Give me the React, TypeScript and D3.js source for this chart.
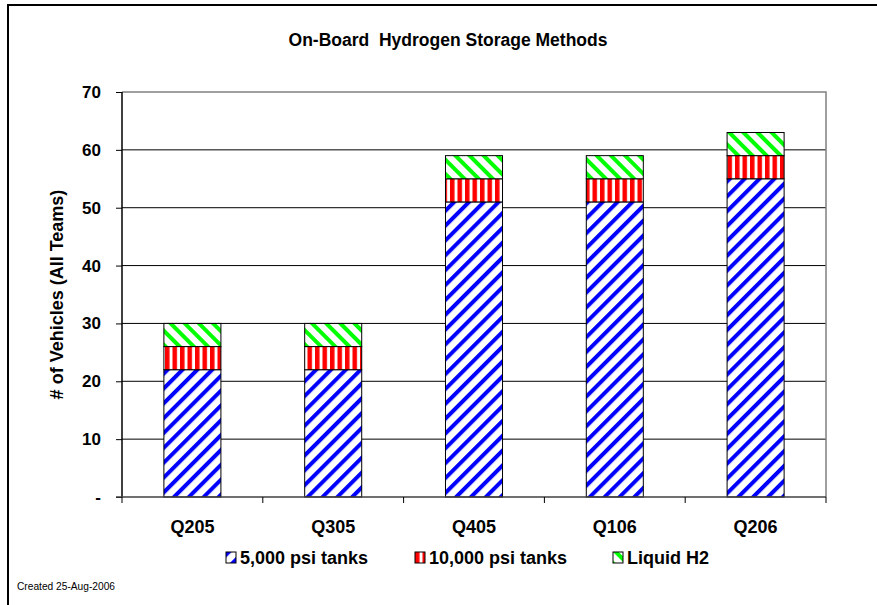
import React, { useRef, useEffect } from "react";
import * as d3 from "d3";

const quarters = ["Q205", "Q305", "Q405", "Q106", "Q206"];
const psi5000 = [22, 22, 51, 51, 55];
const psi10000 = [4, 4, 4, 4, 4];
const liquidH2 = [4, 4, 4, 4, 4];
const seriesNames = ["5,000 psi tanks", "10,000 psi tanks", "Liquid H2"];
const yTicks = [0, 10, 20, 30, 40, 50, 60, 70];

const App = () => {
    const chart = useRef<SVGSVGElement>(null);

    useEffect(() => {
        const width = 877;
        const height = 605;
        const margin = { top: 92, right: 51, bottom: 108, left: 122 };
        const font = "Arial, 'Liberation Sans', sans-serif";

        const svg = d3.select(chart.current);
        svg.selectAll("*").remove();
        svg.attr("width", width).attr("height", height);

        // hatch patterns
        const defs = svg.append("defs");
        const hatch = (id: string, color: string, angle: number, period: number, stroke: number) => {
            const p = defs.append("pattern")
                .attr("id", id)
                .attr("patternUnits", "userSpaceOnUse")
                .attr("width", period)
                .attr("height", period)
                .attr("patternTransform", `rotate(${angle})`);
            p.append("rect").attr("width", period).attr("height", period).attr("fill", "#fff");
            p.append("rect").attr("x", 0).attr("width", stroke).attr("height", period).attr("fill", color);
        };
        hatch("hBlue", "#0000ff", 45, 10.5, 4);
        hatch("hRed", "#ff0000", 0, 7.5, 4.5);
        hatch("hGreen", "#00ff00", -45, 10, 4);
        const fills = ["url(#hBlue)", "url(#hRed)", "url(#hGreen)"];

        // outer frame
        svg.append("rect")
            .attr("x", 8).attr("y", 5)
            .attr("width", width).attr("height", height)
            .attr("fill", "none").attr("stroke", "#000").attr("stroke-width", 2);

        const x = d3.scaleBand()
            .domain(quarters)
            .range([margin.left, width - margin.right]);
        const y = d3.scaleLinear()
            .domain([0, 70])
            .range([height - margin.bottom, margin.top]);

        // gridlines
        svg.append("g")
            .selectAll("line")
            .data(yTicks.filter(d => d > 0 && d < 70))
            .join("line")
            .attr("x1", margin.left).attr("x2", width - margin.right)
            .attr("y1", d => y(d)).attr("y2", d => y(d))
            .attr("stroke", "#000").attr("stroke-width", 1);

        // plot border (top + right)
        svg.append("path")
            .attr("d", `M${margin.left},${y(70)}H${width - margin.right}V${y(0)}`)
            .attr("fill", "none").attr("stroke", "#808080").attr("stroke-width", 1.5);

        // stacked bars
        const rows = quarters.map((q, i) => ({ q, a: psi5000[i], b: psi10000[i], c: liquidH2[i] }));
        const stack = d3.stack<any>().keys(["a", "b", "c"])(rows);
        const bw = x.bandwidth() * 0.405;
        stack.forEach((layer, li) => {
            svg.append("g")
                .selectAll("rect")
                .data(layer)
                .join("rect")
                .attr("x", d => x(d.data.q)! + (x.bandwidth() - bw) / 2)
                .attr("y", d => y(d[1]))
                .attr("width", bw)
                .attr("height", d => y(d[0]) - y(d[1]))
                .attr("fill", fills[li])
                .attr("stroke", "#000")
                .attr("stroke-width", 1);
        });

        // y axis
        const yAxis = svg.append("g")
            .attr("transform", `translate(${margin.left},0)`)
            .call(d3.axisLeft(y).tickValues(yTicks).tickSize(6).tickPadding(15)
                .tickFormat(d => (+d === 0 ? "-" : String(d))));
        yAxis.select(".domain").attr("stroke", "#000").attr("stroke-width", 1.5).attr("d", `M0,${y(70)}V${y(0)}`);
        yAxis.selectAll(".tick line").attr("stroke", "#000");
        yAxis.selectAll("text")
            .attr("font-family", font).attr("font-weight", "bold").attr("font-size", 17).attr("fill", "#000");

        // x axis
        const xAxis = svg.append("g")
            .attr("transform", `translate(0,${y(0)})`)
            .call(d3.axisBottom(x).tickSize(0).tickPadding(23));
        xAxis.select(".domain").attr("stroke", "#404040").attr("stroke-width", 1.5)
            .attr("d", `M${margin.left - 6},0H${width - margin.right}`);
        xAxis.selectAll("text")
            .attr("font-family", font).attr("font-weight", "bold").attr("font-size", 18).attr("fill", "#000");
        svg.append("g")
            .selectAll("line")
            .data(quarters.map(q => x(q)!).concat([width - margin.right]))
            .join("line")
            .attr("x1", d => d).attr("x2", d => d)
            .attr("y1", y(0)).attr("y2", y(0) + 6)
            .attr("stroke", "#000");

        // title
        svg.append("text")
            .attr("x", 448).attr("y", 46)
            .attr("text-anchor", "middle")
            .attr("font-family", font).attr("font-weight", "bold").attr("font-size", 17.5)
            .style("white-space", "pre")
            .text("On-Board  Hydrogen Storage Methods");

        // y axis title
        svg.append("text")
            .attr("transform", `translate(63,${(y(0) + y(70)) / 2}) rotate(-90)`)
            .attr("text-anchor", "middle")
            .attr("font-family", font).attr("font-weight", "bold").attr("font-size", 18)
            .text("# of Vehicles (All Teams)");

        // legend
        const legendX = [226, 415, 613];
        const legend = svg.append("g")
            .selectAll("g")
            .data(seriesNames)
            .join("g")
            .attr("transform", (d, i) => `translate(${legendX[i]},552)`);
        legend.append("rect")
            .attr("width", 10).attr("height", 11)
            .attr("fill", (d, i) => fills[i])
            .attr("stroke", "#000").attr("stroke-width", 1);
        legend.append("text")
            .attr("x", 14).attr("y", 12)
            .attr("font-family", font).attr("font-weight", "bold").attr("font-size", 18)
            .text(d => d);

        svg.append("text")
            .attr("x", 17).attr("y", 590)
            .attr("font-family", font).attr("font-size", 10.2)
            .text("Created 25-Aug-2006");
    });

    return (
        <svg ref={chart} style={{ position: "absolute", left: 0, top: 0, background: "#fff" }} />
    );
};

export default App;
